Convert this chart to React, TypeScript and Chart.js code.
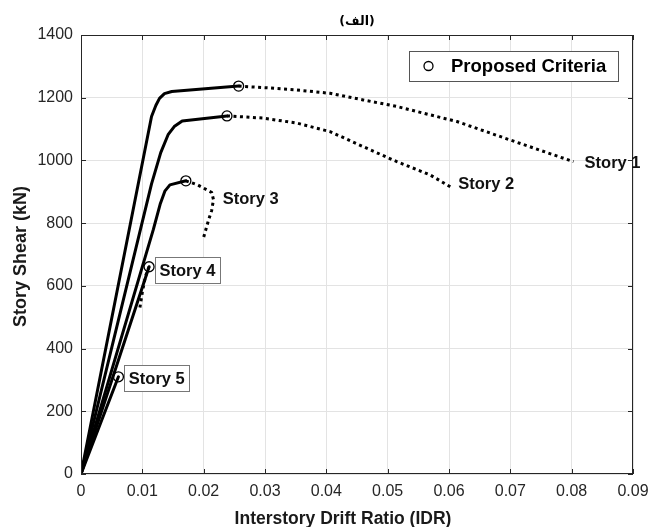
import React, { useEffect, useRef } from "react";
import { Chart, registerables } from "chart.js";

Chart.register(...registerables);

// ---- data ----
const xTicks = [0, 0.01, 0.02, 0.03, 0.04, 0.05, 0.06, 0.07, 0.08, 0.09];
const yTicks = [0, 200, 400, 600, 800, 1000, 1200, 1400];

const s1Drift = [0, 0.0115, 0.0122, 0.0128, 0.0136, 0.0148, 0.0257];
const s1Shear = [0, 1140, 1175, 1198, 1213, 1220, 1237];
const s1PostDrift = [0.0257, 0.03, 0.035, 0.0406, 0.046, 0.0515, 0.057, 0.0613, 0.07, 0.0803];
const s1PostShear = [1237, 1232, 1225, 1214, 1193, 1172, 1145, 1124, 1065, 996];

const s2Drift = [0, 0.0115, 0.013, 0.0142, 0.0152, 0.0165, 0.0238];
const s2Shear = [0, 925, 1025, 1082, 1108, 1126, 1142];
const s2PostDrift = [0.0238, 0.0297, 0.0352, 0.0406, 0.046, 0.0515, 0.0569, 0.0603];
const s2PostShear = [1142, 1135, 1119, 1092, 1044, 996, 954, 915];

const s3Drift = [0, 0.0118, 0.0129, 0.0137, 0.0145, 0.0171];
const s3Shear = [0, 780, 860, 903, 922, 935];
const s3PostDrift = [0.0171, 0.019, 0.0213, 0.0216, 0.0213, 0.0208, 0.02];
const s3PostShear = [935, 922, 898, 875, 840, 810, 755];

const s4Drift = [0, 0.0111];
const s4Shear = [0, 661];
const s4PostDrift = [0.0111, 0.0105, 0.01, 0.0096];
const s4PostShear = [661, 630, 580, 530];

const s5Drift = [0, 0.0061];
const s5Shear = [0, 310];

const criteriaDrift = [0.0257, 0.0238, 0.0171, 0.0111, 0.0061];
const criteriaShear = [1237, 1142, 935, 661, 310];

const storyLabels = ["Story 1", "Story 2", "Story 3", "Story 4", "Story 5"];
const labelDrift = [0.0821, 0.0615, 0.0231, 0.0128, 0.0078];
const labelShear = [995, 925, 880, 650, 305];
const labelBoxed = [false, false, false, true, true];

const titleText = "(الف)";
const xTitle = "Interstory Drift Ratio (IDR)";
const yTitle = "Story Shear (kN)";
const legendText = "Proposed Criteria";

const pts = (xs: number[], ys: number[]) => xs.map((x, i) => ({ x, y: ys[i] }));

const solid = (xs: number[], ys: number[]) => ({
  data: pts(xs, ys),
  showLine: true,
  borderColor: "#000",
  borderWidth: 3,
  pointRadius: 0,
  borderJoinStyle: "round" as const,
  borderCapStyle: "round" as const,
});
const dotted = (xs: number[], ys: number[]) => ({
  data: pts(xs, ys),
  showLine: true,
  borderColor: "#000",
  borderWidth: 3,
  borderDash: [3, 3.5],
  borderCapStyle: "butt" as const,
  pointRadius: 0,
});

const FONT = "'Liberation Sans', Arial, 'DejaVu Sans', sans-serif";

const overlay = {
  id: "overlay",
  afterDraw(chart: any) {
    const ctx = chart.ctx as CanvasRenderingContext2D;
    const { left, right, top, bottom } = chart.chartArea;
    const xs = chart.scales.x;
    const ys = chart.scales.y;
    ctx.save();
    // box
    ctx.strokeStyle = "#262626";
    ctx.lineWidth = 1;
    ctx.strokeRect(left + 0.5, top + 0.5, right - left - 1, bottom - top - 1);
    // inward ticks
    ctx.beginPath();
    xTicks.forEach((t) => {
      const px = Math.round(xs.getPixelForValue(t)) + 0.5;
      ctx.moveTo(px, bottom);
      ctx.lineTo(px, bottom - 5);
      ctx.moveTo(px, top);
      ctx.lineTo(px, top + 5);
    });
    yTicks.forEach((t) => {
      const py = Math.round(ys.getPixelForValue(t)) + 0.5;
      ctx.moveTo(left, py);
      ctx.lineTo(left + 5, py);
      ctx.moveTo(right, py);
      ctx.lineTo(right - 5, py);
    });
    ctx.stroke();

    // title
    ctx.fillStyle = "#000";
    ctx.textAlign = "center";
    ctx.textBaseline = "middle";
    ctx.font = `bold 12.5px 'DejaVu Sans', sans-serif`;
    ctx.fillText(titleText, (left + right) / 2, 22);

    // axis titles
    ctx.fillStyle = "#1a1a1a";
    ctx.font = `bold 17.5px ${FONT}`;
    ctx.fillText(xTitle, 343, 519);
    ctx.save();
    ctx.font = `bold 18px ${FONT}`;
    ctx.translate(21, (top + bottom) / 2 + 2);
    ctx.rotate(-Math.PI / 2);
    ctx.fillText(yTitle, 0, 0);
    ctx.restore();

    // legend
    const lx = 409.5, ly = 51.5, lw = 209, lh = 30;
    ctx.fillStyle = "#fff";
    ctx.fillRect(lx, ly, lw, lh);
    ctx.strokeStyle = "#555";
    ctx.lineWidth = 1;
    ctx.strokeRect(lx, ly, lw, lh);
    ctx.beginPath();
    ctx.arc(428.5, 66, 4.5, 0, Math.PI * 2);
    ctx.strokeStyle = "#000";
    ctx.lineWidth = 1.3;
    ctx.stroke();
    ctx.fillStyle = "#000";
    ctx.textAlign = "left";
    ctx.font = `bold 18.5px ${FONT}`;
    ctx.fillText(legendText, 451, 67);

    // story labels
    ctx.font = `bold 16.5px ${FONT}`;
    storyLabels.forEach((s, i) => {
      const px = xs.getPixelForValue(labelDrift[i]);
      const py = ys.getPixelForValue(labelShear[i]);
      const w = ctx.measureText(s).width;
      if (labelBoxed[i]) {
        ctx.fillStyle = "#fff";
        ctx.fillRect(px - 4.5, py - 13, w + 9, 26);
        ctx.strokeStyle = "#777";
        ctx.lineWidth = 1;
        ctx.strokeRect(Math.round(px - 4.5) + 0.5, Math.round(py - 13) + 0.5, Math.round(w + 9), 26);
      }
      ctx.fillStyle = "#111";
      ctx.fillText(s, px, py + 1);
    });
    ctx.restore();
  },
};

export default function App() {
  const ref = useRef<HTMLCanvasElement>(null);
  useEffect(() => {
    if (!ref.current) return;
    const chart = new Chart(ref.current, {
      type: "scatter",
      data: {
        datasets: [
          solid(s1Drift, s1Shear),
          dotted(s1PostDrift, s1PostShear),
          solid(s2Drift, s2Shear),
          dotted(s2PostDrift, s2PostShear),
          solid(s3Drift, s3Shear),
          dotted(s3PostDrift, s3PostShear),
          solid(s4Drift, s4Shear),
          dotted(s4PostDrift, s4PostShear),
          solid(s5Drift, s5Shear),
          {
            data: pts(criteriaDrift, criteriaShear),
            showLine: false,
            pointStyle: "circle",
            pointRadius: 5,
            pointBorderWidth: 1.3,
            borderColor: "#000",
            backgroundColor: "rgba(0,0,0,0)",
          },
        ] as any,
      },
      options: {
        animation: false,
        responsive: false,
        devicePixelRatio: 1,
        layout: { padding: { left: 0, top: 35, right: 19, bottom: 0 } },
        plugins: { legend: { display: false }, tooltip: { enabled: false }, title: { display: false } },
        scales: {
          x: {
            type: "linear",
            min: 0,
            max: 0.09,
            afterFit: (s: any) => { s.height = 53; s.paddingLeft = 0; s.paddingRight = 0; },
            afterBuildTicks: (s: any) => { s.ticks = xTicks.map((v) => ({ value: v })); },
            ticks: {
              padding: 8,
              color: "#262626",
              font: { family: FONT, size: 16 },
              callback: (v: any) => (Number(v) === 0 ? "0" : Number(v).toFixed(2)),
              maxRotation: 0,
              autoSkip: false,
            },
            grid: { color: "#e3e3e3", lineWidth: 1, drawTicks: false },
            border: { display: false },
          },
          y: {
            type: "linear",
            min: 0,
            max: 1400,
            afterFit: (s: any) => { s.width = 81; s.paddingTop = 0; s.paddingBottom = 0; },
            afterBuildTicks: (s: any) => { s.ticks = yTicks.map((v) => ({ value: v })); },
            ticks: {
              padding: 8,
              color: "#262626",
              font: { family: FONT, size: 16 },
              callback: (v: any) => String(Math.round(Number(v))),
              autoSkip: false,
            },
            grid: { color: "#e3e3e3", lineWidth: 1, drawTicks: false },
            border: { display: false },
          },
        },
      },
      plugins: [overlay],
    });
    return () => chart.destroy();
  }, []);
  return (
    <div style={{ position: "absolute", left: 0, top: 0, width: 652, height: 527, background: "#fff" }}>
      <canvas ref={ref} width={652} height={527} />
    </div>
  );
}
